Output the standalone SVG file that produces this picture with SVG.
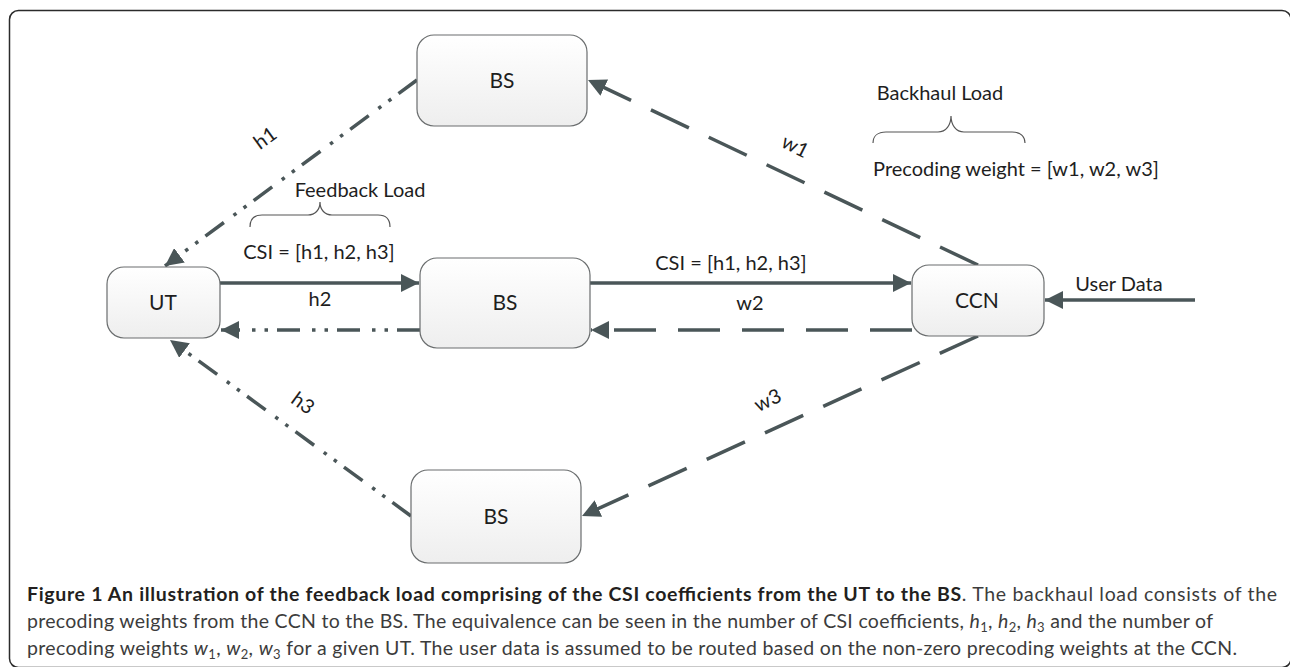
<svg xmlns="http://www.w3.org/2000/svg" width="1290" height="667" viewBox="0 0 1290 667">
  <style>
    .node rect { stroke: #6a6d6e; stroke-width: 1.2; fill: url(#nodeGrad); }
    .lbl { font-family: Lato, "Open Sans", sans-serif; font-size: 20px; fill: #1e1e1e; }
    .nl { font-size: 21px; }
    .mid { text-anchor: middle; }
    .solid { stroke: #4a5658; stroke-width: 3.5; fill: none; }
    .dash { stroke: #4a5658; stroke-width: 3.5; fill: none; stroke-dasharray: 42 22; }
    .dashdot { stroke: #4a5658; stroke-width: 3.5; fill: none; stroke-dasharray: 23 9 3.5 9 3.5 12; }
    .brace { stroke: #555; stroke-width: 1.2; fill: none; }
    .cap { font-family: Lato, "Open Sans", sans-serif; font-size: 19.5px; fill: #3c3c3c; }
    .capb { font-weight: bold; fill: #231f20; }
  </style>
  <defs>
    <linearGradient id="nodeGrad" x1="0" y1="0" x2="0" y2="1">
      <stop offset="0" stop-color="#ffffff"/>
      <stop offset="1" stop-color="#eeeeee"/>
    </linearGradient>
    <marker id="ah" viewBox="0 0 18 18" markerWidth="18" markerHeight="18" refX="18" refY="9" orient="auto" markerUnits="userSpaceOnUse">
      <path d="M0,0 L18,9 L0,18 Z" fill="#4a5658"/>
    </marker>
  </defs>

  <rect x="9.5" y="10.5" width="1281.5" height="657" rx="9" fill="none" stroke="#2b2b2b" stroke-width="1.5"/>

  <g id="connectors">
    <line id="e-ut-bs2" class="solid" x1="220" y1="283" x2="419" y2="283" marker-end="url(#ah)"/>
    <line id="e-bs2-ccn" class="solid" x1="590" y1="283" x2="911" y2="283" marker-end="url(#ah)"/>
    <line id="e-bs2-ut" class="dashdot" x1="420" y1="330" x2="221" y2="330" marker-end="url(#ah)"/>
    <line id="e-ccn-bs2" class="dash" x1="912" y1="330" x2="591" y2="330" marker-end="url(#ah)"/>
    <line id="e-bs1-ut" class="dashdot" x1="417" y1="80" x2="165" y2="266" marker-end="url(#ah)"/>
    <line id="e-bs3-ut" class="dashdot" x1="411" y1="516" x2="170" y2="340" marker-end="url(#ah)"/>
    <line id="e-ccn-bs1" class="dash" x1="978" y1="265" x2="588" y2="80" marker-end="url(#ah)"/>
    <line id="e-ccn-bs3" class="dash" x1="978" y1="336" x2="582" y2="516" marker-end="url(#ah)"/>
    <line id="e-user-ccn" class="solid" x1="1195" y1="300" x2="1045" y2="300" marker-end="url(#ah)"/>
  </g>

  <g id="node-bs1" class="node">
    <rect x="417" y="35" width="170" height="91" rx="17"/>
    <text class="lbl nl mid" x="502" y="88">BS</text>
  </g>
  <g id="node-bs2" class="node">
    <rect x="420" y="258" width="170" height="90" rx="17"/>
    <text class="lbl nl mid" x="505" y="310">BS</text>
  </g>
  <g id="node-bs3" class="node">
    <rect x="411" y="470" width="170" height="93" rx="17"/>
    <text class="lbl nl mid" x="496" y="524">BS</text>
  </g>
  <g id="node-ut" class="node">
    <rect x="107" y="267" width="113" height="71" rx="17"/>
    <text class="lbl nl mid" x="163" y="310">UT</text>
  </g>
  <g id="node-ccn" class="node">
    <rect x="912" y="265" width="132" height="71" rx="17"/>
    <text class="lbl nl mid" x="977" y="308">CCN</text>
  </g>

  <g id="labels">
    <text class="lbl mid" transform="translate(265,138) rotate(-36)" x="0" y="7">h1</text>
    <text class="lbl mid" transform="translate(795,147) rotate(27)" x="0" y="6">w1</text>
    <text class="lbl mid" transform="translate(303,403) rotate(36)" x="0" y="7">h3</text>
    <text class="lbl mid" transform="translate(768,401) rotate(-25)" x="0" y="6">w3</text>
    <text class="lbl mid" x="320" y="306">h2</text>
    <text class="lbl mid" x="750" y="310">w2</text>
    <text class="lbl mid" x="319" y="259">CSI = [h1, h2, h3]</text>
    <text class="lbl mid" x="731" y="270">CSI = [h1, h2, h3]</text>
    <text class="lbl mid" x="360" y="197">Feedback Load</text>
    <text class="lbl mid" x="940" y="100">Backhaul Load</text>
    <text class="lbl mid" x="1016" y="176">Precoding weight = [w1, w2, w3]</text>
    <text class="lbl mid" x="1119" y="291">User Data</text>
    <path class="brace" d="M250,227 C250,219 254,215 262,215 L308,215 C315,215 320,210 320,202 C320,210 325,215 332,215 L378,215 C386,215 390,219 390,227"/>
    <path class="brace" d="M873,143 C873,136 878,132 886,132 L938,132 C946,132 951,125 951,116 C951,125 956,132 964,132 L1012,132 C1020,132 1025,136 1025,143"/>
  </g>

  <g id="caption">
    <text class="cap" x="27" y="601" textLength="1250" lengthAdjust="spacing"><tspan class="capb">Figure 1 An illustration of the feedback load comprising of the CSI coefficients from the UT to the BS</tspan>. The backhaul load consists of the</text>
    <text class="cap" x="27" y="628" textLength="1186" lengthAdjust="spacing">precoding weights from the CCN to the BS. The equivalence can be seen in the number of CSI coefficients, <tspan font-style="italic">h</tspan><tspan font-size="13" dy="4">1</tspan><tspan dy="-4">, </tspan><tspan font-style="italic">h</tspan><tspan font-size="13" dy="4">2</tspan><tspan dy="-4">, </tspan><tspan font-style="italic">h</tspan><tspan font-size="13" dy="4">3</tspan><tspan dy="-4"> and the number of</tspan></text>
    <text class="cap" x="27" y="655" textLength="1210" lengthAdjust="spacing">precoding weights <tspan font-style="italic">w</tspan><tspan font-size="13" dy="4">1</tspan><tspan dy="-4">, </tspan><tspan font-style="italic">w</tspan><tspan font-size="13" dy="4">2</tspan><tspan dy="-4">, </tspan><tspan font-style="italic">w</tspan><tspan font-size="13" dy="4">3</tspan><tspan dy="-4"> for a given UT. The user data is assumed to be routed based on the non-zero precoding weights at the CCN.</tspan></text>
  </g>
</svg>
